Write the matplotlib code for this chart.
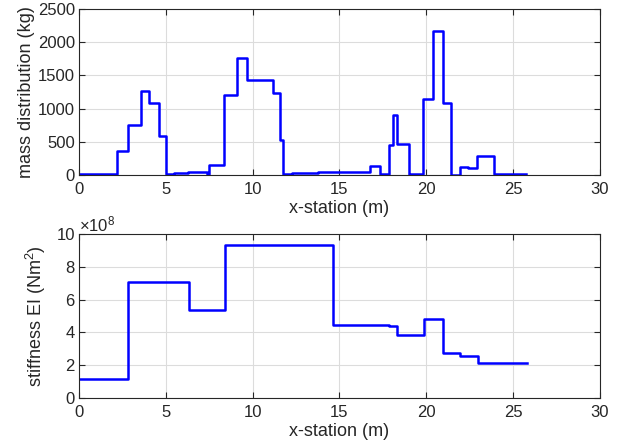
import numpy as np
import matplotlib.pyplot as plt

plt.rcParams['font.family'] = ['Liberation Sans', 'DejaVu Sans']
plt.rcParams['mathtext.fontset'] = 'custom'
plt.rcParams['mathtext.rm'] = 'Liberation Sans'
plt.rcParams['mathtext.it'] = 'Liberation Sans'

# mass distribution: step edges (m) and values (kg)
mass_x = [0, 1.6, 2.17, 2.8, 3.55, 4.03, 4.6, 5.01, 5.5, 6.3, 7.4, 7.48, 8.35,
          9.12, 9.65, 11.19, 11.57, 11.72, 12.28, 13.76, 16.75, 17.33, 17.87,
          18.06, 18.29, 18.98, 19.06, 19.82, 20.36, 20.94, 21.42, 21.93, 22.41,
          22.91, 23.87, 24.8, 25.75]
mass_v = [10, 15, 360, 750, 1270, 1080, 590, 20, 30, 45, 10, 150, 1205,
          1767, 1430, 1230, 527, 20, 30, 40, 135, 20, 447,
          899, 467, 0, 20, 1140, 2169, 1089, 0, 125, 105,
          291, 20, 15, 15]

# stiffness EI: step edges (m) and values (x1e8 Nm^2)
ei_x = [0, 2.82, 6.31, 8.38, 14.6, 17.88, 18.29, 19.88, 20.96, 21.95, 22.95, 25.8]
ei_v = [1.16, 7.1, 5.35, 9.33, 4.43, 4.40, 3.84, 4.82, 2.74, 2.57, 2.14, 2.14]

dark = '#262626'
fs_tick = 12
fs_lab = 13
fig = plt.figure(figsize=(6.18, 4.46), dpi=100)
ax1 = fig.add_axes([0.1278, 0.6076, 0.843, 0.372])
ax2 = fig.add_axes([0.1278, 0.1076, 0.843, 0.3677])

ax1.plot(mass_x, mass_v, drawstyle='steps-post', color='blue', lw=1.8)
ax1.set_xlim(0, 30)
ax1.set_ylim(0, 2500)
ax1.set_yticks(np.arange(0, 2501, 500))
ax1.set_xlabel('x-station (m)', fontsize=fs_lab, color=dark, labelpad=2)
ax1.set_ylabel('mass distribution (kg)', fontsize=fs_lab, color=dark, labelpad=2)

ax2.plot(ei_x, ei_v, drawstyle='steps-post', color='blue', lw=1.8)
ax2.set_xlim(0, 30)
ax2.set_ylim(0, 10)
ax2.set_yticks(np.arange(0, 11, 2))
ax2.set_xlabel('x-station (m)', fontsize=fs_lab, color=dark, labelpad=2)
ax2.set_ylabel('stiffness EI (Nm$^2$)', fontsize=fs_lab, color=dark, labelpad=6)
ax2.text(0.0, 1.0, r'$\times10^{8}$', transform=ax2.transAxes, fontsize=fs_tick,
         color=dark, ha='left', va='bottom')

for ax in (ax1, ax2):
    ax.set_xticks(np.arange(0, 31, 5))
    ax.grid(True, color='#dcdcdc', lw=0.8)
    ax.set_axisbelow(True)
    ax.tick_params(direction='in', top=True, right=True, labelsize=fs_tick,
                   colors=dark, length=4, width=0.8, pad=3)
    ax.tick_params(axis='x', pad=5)
    for s in ax.spines.values():
        s.set_color(dark)
        s.set_linewidth(0.8)

fig.savefig('out.png', dpi=100)
